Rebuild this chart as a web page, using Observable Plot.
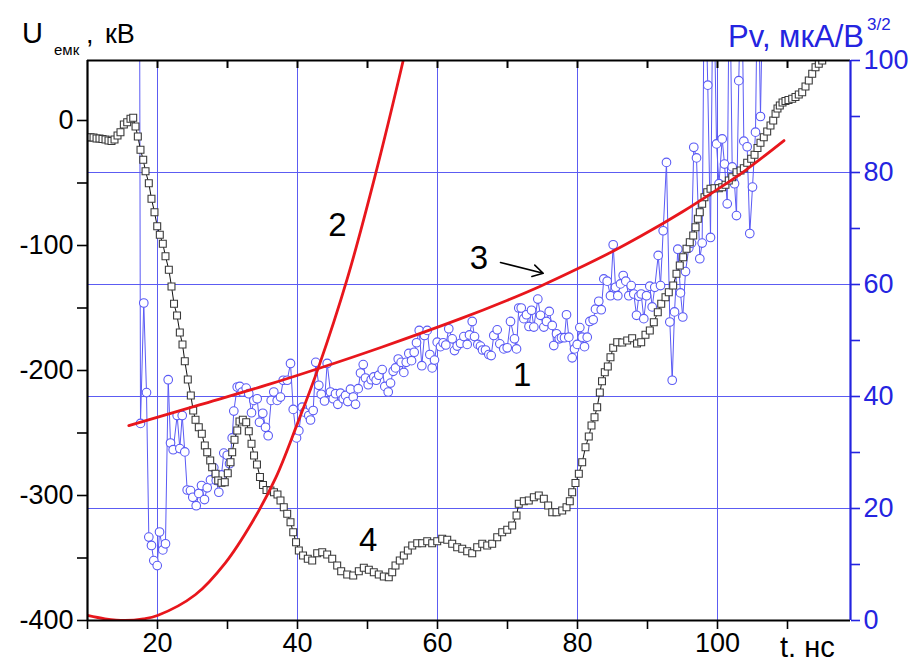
<!DOCTYPE html>
<html>
<head>
<meta charset="utf-8">
<script src="https://cdn.jsdelivr.net/npm/d3@7"></script>
<script src="https://cdn.jsdelivr.net/npm/@observablehq/plot@0.6"></script>
<style>
  html, body { margin: 0; padding: 0; background: #fff; }
  #chart { width: 912px; height: 663px; }
</style>
</head>
<body>
<div id="chart"></div>
<script>
// ---------- data ----------
// curve 1: Pv, мкА/В^3/2 (right axis) – [t, Pv]
const pvPoints = [
[17.43,120],[17.57,35.2],[18.04,56.7],[18.43,40.7],[18.76,14.9],[19.14,13.4],[19.47,10.7],[19.96,9.8],[20.29,15.8],[20.76,12.6],
[21.14,13.7],[21.53,43.0],[21.86,31.7],[22.24,30.5],[22.81,36.6],[23.19,30.7],[23.53,36.6],[23.90,30.1],[24.24,23.3],[24.71,23.2],
[25.04,22.0],[25.53,20.5],[25.90,22.7],[26.29,24.1],[26.71,21.6],[27.10,23.7],[27.57,25.1],[28.04,27.3],[28.39,25.0],[28.76,22.9],
[29.14,26.0],[29.47,29.9],[29.96,29.5],[30.29,28.0],[30.67,32.6],[30.90,37.4],[31.39,41.7],[31.76,41.8],[32.10,40.8],[32.67,41.5],
[33.04,40.5],[33.43,37.1],[33.76,39.3],[34.24,39.6],[34.57,35.4],[35.04,37.0],[35.43,34.5],[35.81,33.0],[36.24,39.3],[36.61,40.8],
[37.10,39.3],[37.57,39.9],[37.96,42.9],[38.53,42.9],[39.00,45.9],[39.39,37.7],[39.86,32.6],[40.19,33.9],[40.67,38.1],[41.00,37.2],
[41.61,36.6],[41.86,35.8],[42.24,37.5],[42.61,46.1],[43.04,42.0],[43.39,40.4],[43.86,39.2],[44.24,45.9],[44.71,40.8],[45.10,39.6],
[45.43,40.5],[45.76,38.6],[46.14,40.6],[46.53,39.6],[46.86,40.2],[47.19,39.1],[47.57,41.3],[47.96,39.9],[48.29,38.6],[48.67,41.4],
[49.00,44.2],[49.39,45.7],[49.71,43.3],[50.10,42.1],[50.53,43.0],[50.90,43.5],[51.24,42.9],[51.61,43.8],[52.10,44.8],[52.47,41.8],
[52.96,40.8],[53.29,42.4],[53.67,44.5],[54.00,45.1],[54.39,46.7],[54.81,46.1],[55.19,44.3],[55.53,46.1],[55.90,47.7],[56.29,46.4],
[56.67,47.9],[57.00,49.6],[57.39,51.8],[57.76,45.5],[58.14,50.9],[58.53,51.8],[58.90,47.5],[59.24,45.1],[59.57,46.5],[59.96,49.7],
[60.43,48.9],[60.81,49.6],[61.19,49.2],[61.61,52.1],[62.10,50.3],[62.43,48.2],[62.81,49.0],[63.29,49.5],[63.76,50.7],[64.24,49.3],
[64.57,51.0],[64.96,53.4],[65.29,50.7],[65.76,49.3],[66.14,49.0],[66.43,48.3],[66.86,48.3],[67.33,47.5],[67.67,47.3],[68.04,50.9],
[68.53,51.9],[68.90,49.4],[69.47,48.5],[69.96,48.7],[70.43,53.4],[71.00,50.3],[71.29,48.5],[71.61,55.8],[71.96,55.8],[72.33,53.9],
[72.71,54.6],[73.07,52.5],[73.43,55.4],[73.76,52.4],[74.33,57.4],[74.71,54.5],[75.19,52.4],[75.57,53.4],[75.96,55.2],[76.39,52.7],
[76.61,49.1],[77.00,51.2],[77.39,50.3],[77.71,50.5],[78.14,50.5],[78.43,54.6],[78.76,50.6],[79.24,46.9],[79.57,48.5],[79.96,49.3],
[80.33,52.3],[80.67,50.6],[81.00,48.9],[81.39,50.6],[81.76,53.4],[82.24,53.7],[82.57,55.6],[83.04,57.0],[83.39,55.5],[83.76,61.0],
[84.24,60.6],[84.71,58.0],[85.10,67.1],[85.43,59.5],[85.76,58.0],[86.14,60.1],[86.53,61.6],[86.90,60.6],[87.33,58.0],[87.67,59.8],
[88.04,58.3],[88.43,54.5],[88.76,57.9],[89.10,58.3],[89.47,53.9],[89.86,58.0],[90.33,59.7],[90.67,56.0],[91.04,59.5],[91.53,65.2],
[91.86,59.8],[92.24,69.6],[92.71,81.8],[93.19,53.3],[93.53,42.9],[93.86,55.1],[94.33,66.3],[94.71,58.5],[95.04,54.2],[95.43,62.3],
[95.90,66.5],[96.29,67.4],[96.61,84.5],[97.00,82.6],[97.47,64.6],[97.81,67.4],[98.14,120],[98.61,95.6],[99.00,68.4],[99.39,120],
[99.86,85.1],[100.21,78.0],[100.67,86.0],[101.00,81.5],[101.39,74.4],[101.71,120],[102.10,81.0],[102.43,78.0],[102.71,72.3],[103.04,96.4],
[103.43,120],[103.76,85.6],[104.24,84.6],[104.61,69.1],[105.00,77.4],[105.43,87.2],[105.76,120],[106.14,90.0],[106.57,120]
];

// curve 4: U емк, кВ (left axis) – [t, U]
const uPoints = [
[10.07,-13.6],[10.43,-13.4],[10.86,-13.6],[11.29,-14.4],[11.71,-14.4],[12.14,-14.8],[12.57,-15.2],[13.00,-16.0],[13.43,-16.4],[13.86,-15.2],
[14.29,-12.0],[14.71,-9.4],[15.19,-3.2],[15.67,-1.4],[16.14,1.4],[16.53,2.2],[16.86,-4.8],[17.19,-12.8],[17.57,-23.4],[17.96,-31.4],
[18.29,-40.6],[18.76,-50.2],[19.14,-62.6],[19.57,-73.4],[19.96,-84.6],[20.33,-91.4],[20.76,-98.6],[21.14,-108.6],[21.62,-119.4],[22.00,-132.8],
[22.36,-146.6],[22.79,-156.0],[23.19,-169.6],[23.57,-179.2],[23.90,-192.6],[24.33,-207.2],[24.76,-220.0],[25.10,-232.0],[25.43,-239.4],[25.90,-245.4],
[26.33,-250.6],[26.76,-260.0],[27.10,-265.4],[27.53,-272.0],[27.81,-277.4],[28.29,-282.6],[28.67,-288.0],[29.14,-289.8],[29.61,-289.4],[30.04,-282.2],
[30.43,-273.4],[30.67,-265.4],[31.00,-255.4],[31.39,-248.0],[31.71,-240.8],[32.19,-239.4],[32.67,-241.4],[33.04,-248.6],[33.43,-258.6],[33.79,-268.0],
[34.21,-275.2],[34.64,-285.2],[35.07,-291.6],[35.57,-295.6],[36.14,-296.0],[36.64,-297.4],[37.14,-299.2],[37.57,-304.0],[38.04,-309.4],[38.53,-314.6],
[39.00,-321.4],[39.39,-329.4],[39.79,-337.4],[40.19,-344.0],[40.79,-348.0],[41.47,-350.6],[42.10,-352.0],[42.81,-346.2],[43.53,-345.4],[44.24,-347.2],
[44.96,-350.6],[45.67,-356.0],[46.24,-360.6],[47.10,-363.2],[47.96,-364.0],[48.76,-360.6],[49.47,-357.8],[50.19,-359.4],[50.90,-361.4],[51.61,-363.2],
[52.33,-364.8],[53.04,-365.4],[53.53,-361.4],[54.00,-356.0],[54.61,-352.0],[55.19,-348.0],[55.76,-344.0],[56.39,-340.0],[57.10,-338.2],[57.81,-338.2],
[58.53,-336.6],[59.24,-338.2],[59.96,-336.6],[60.67,-334.6],[61.39,-335.4],[62.10,-338.6],[62.81,-341.4],[63.53,-342.6],[64.24,-344.6],[64.96,-346.2],
[65.67,-341.4],[66.39,-338.6],[67.10,-340.0],[67.81,-338.6],[68.53,-333.4],[69.24,-329.4],[69.96,-327.4],[70.67,-324.0],[71.29,-316.0],[71.61,-306.6],
[72.33,-304.6],[73.04,-304.0],[73.76,-301.4],[74.47,-300.0],[75.19,-302.6],[75.81,-308.0],[76.39,-313.4],[77.00,-313.4],[77.81,-312.0],[78.43,-309.4],
[78.90,-304.6],[79.24,-297.4],[79.71,-290.0],[80.19,-282.6],[80.67,-273.4],[81.14,-261.4],[81.61,-252.8],[82.00,-244.0],[82.43,-237.4],[82.81,-229.4],
[83.19,-217.6],[83.50,-208.6],[83.90,-201.4],[84.33,-196.8],[84.71,-189.4],[85.10,-181.8],[85.67,-177.4],[86.39,-177.6],[87.10,-176.0],[87.81,-174.2],
[88.50,-178.4],[89.10,-177.4],[89.71,-171.4],[90.33,-168.0],[90.90,-161.4],[91.47,-153.4],[91.96,-146.6],[92.57,-141.4],[93.04,-137.4],[93.67,-132.0],
[94.14,-122.6],[94.61,-116.0],[95.10,-109.4],[95.57,-102.6],[96.04,-97.4],[96.53,-92.0],[96.86,-85.4],[97.19,-78.6],[97.47,-73.4],[97.81,-66.6],
[98.14,-61.4],[98.53,-57.4],[99.00,-54.6],[99.57,-54.2],[100.19,-54.2],[100.67,-53.4],[101.14,-51.4],[101.61,-48.0],[102.10,-45.4],[102.71,-41.4],
[103.29,-40.0],[103.76,-38.2],[104.24,-33.8],[104.81,-30.6],[105.29,-27.4],[105.71,-22.0],[106.14,-17.8],[106.61,-13.4],[107.10,-8.8],[107.57,-4.0],
[107.96,0.0],[108.29,5.4],[108.57,9.6],[108.90,12.0],[109.29,14.4],[109.71,15.6],[110.14,16.4],[110.67,17.4],[111.14,18.8],[111.61,20.8],
[112.10,22.6],[112.57,27.2],[113.04,32.0],[113.53,37.4],[114.00,42.6],[114.47,45.4],[114.96,48.0]
];

// curve 2 (right axis): [t, Pv]
const curve2 = [[10,0.9],[12.5,0.3],[15.4,0],[18,0.3],[20,0.9],[25.4,4.6],[29.7,10.3],[33.5,17.5],[36.9,25.5],[40,35.2],[43,45.2],[47.1,61.0],[51,79],[55.1,100],[56,105]];
// curve 3 (right axis): [t, Pv]
const curve3 = [[15.9,34.8],[26,38.5],[36,42.2],[43,45.0],[52,48.8],[63.3,53.9],[70,57.2],[74.7,59.7],[80,62.8],[85,65.9],[89,68.6],[95,73.0],[100,77.0],[104,80.4],[109.5,85.7]];

// curve numbers [text, t, U] and arrow [t1, U1, t2, U2]
const curveLabels = [["1",72.1,-204],["2",45.7,-84],["3",65.9,-110.4],["4",50.1,-336]];
const arrow3 = [[69.0,-113.6,75.1,-122.2]];

// axes
const xDomain = [10, 119];
const uDomain = [-400, 48];
const xTicks = [10,20,30,40,50,60,70,80,90,100,110];
const xGrid = [20,40,60,80,100];
const uTicks = [-400,-350,-300,-250,-200,-150,-100,-50,0];
const pvTicks = [0,10,20,30,40,50,60,70,80,90,100];
const pvGrid = [20,40,60,80];

// ---------- drawing ----------
const BLUE = "#2424e0";
const GRID = "#5c5cf2";
const LINE_BLUE = "#5a5af5";
const RED = "#e8161c";
const FONT = "'Liberation Sans', Arial, sans-serif";
const pvToU = p => uDomain[0] + p * (uDomain[1] - uDomain[0]) / 100;
const uToPv = u => (u - uDomain[0]) * 100 / (uDomain[1] - uDomain[0]);
const TOP_TICK = 8 * (uDomain[1] - uDomain[0]) / 560; // 8 px, in U units

const pv = pvPoints.map(([t, p]) => ({t, p}));
const uu = uPoints.map(([t, u]) => ({t, u}));
const c2 = curve2.map(([t, p]) => ({t, p}));
const c3 = curve3.map(([t, p]) => ({t, p}));

const svg = Plot.plot({
  width: 912, height: 663,
  marginLeft: 87, marginRight: 62, marginTop: 60, marginBottom: 43,
  x: {domain: xDomain},
  y: {domain: uDomain},
  style: {fontFamily: FONT, background: "white", color: "black", overflow: "visible"},
  marks: [
    // grid
    Plot.ruleX(xGrid, {stroke: GRID, strokeWidth: 1}),
    Plot.ruleY(pvGrid.map(pvToU), {stroke: GRID, strokeWidth: 1}),
    // curve 1 (circles)
    Plot.line(pv, {x: "t", y: d => pvToU(d.p), stroke: LINE_BLUE, strokeWidth: 1, clip: true}),
    Plot.dot(pv, {x: "t", y: d => pvToU(d.p), r: 4.3, stroke: LINE_BLUE, strokeWidth: 1.1, fill: "white", clip: true}),
    // curve 4 (squares)
    Plot.line(uu, {x: "t", y: "u", stroke: "#111", strokeWidth: 1, clip: true}),
    Plot.dot(uu, {x: "t", y: "u", symbol: "square", r: 3.9, stroke: "#3a3a3a", strokeWidth: 1.1, fill: "white", clip: true}),
    // red curves
    Plot.line(c2, {x: "t", y: d => pvToU(d.p), curve: "catmull-rom", stroke: RED, strokeWidth: 2.8, clip: true}),
    Plot.line(c3, {x: "t", y: d => pvToU(d.p), curve: "catmull-rom", stroke: RED, strokeWidth: 2.8, clip: true}),
    // curve numbers
    Plot.text(curveLabels, {x: d => d[1], y: d => d[2], text: d => d[0], fontSize: 33, fill: "black"}),
    Plot.arrow(arrow3, {x1: d => d[0], y1: d => d[1], x2: d => d[2], y2: d => d[3], stroke: "black", strokeWidth: 1.6, headLength: 11}),
    // frame
    Plot.ruleY([uDomain[1]], {stroke: "black", strokeWidth: 2.2}),
    Plot.ruleY([uDomain[0]], {stroke: "black", strokeWidth: 2.2}),
    Plot.ruleX([xDomain[0]], {stroke: "black", strokeWidth: 2.2}),
    Plot.ruleX([xDomain[1]], {stroke: BLUE, strokeWidth: 2.2}),
    // top inward ticks
    Plot.ruleX(xTicks.filter(d => d > xDomain[0]), {x: d => d, y1: uDomain[1], y2: uDomain[1] - TOP_TICK, stroke: "black", strokeWidth: 2}),
    // axes
    Plot.axisX(xTicks, {anchor: "bottom", tickSize: 9, tickPadding: 3, strokeWidth: 1.6, fontSize: 27,
      tickFormat: d => d % 20 === 0 ? String(d) : "", label: null}),
    Plot.axisY(uTicks, {anchor: "left", tickSize: 10, tickPadding: 4, strokeWidth: 1.6, fontSize: 27,
      tickFormat: d => d % 100 === 0 ? String(d) : "", label: null}),
    Plot.axisY(pvTicks.map(pvToU), {anchor: "right", tickSize: 9, tickPadding: 4, strokeWidth: 1.6, fontSize: 27, color: BLUE,
      tickFormat: u => { const p = Math.round(uToPv(u)); return p % 20 === 0 ? String(p) : ""; }, label: null})
  ]
});

document.getElementById("chart").appendChild(svg);

// axis titles (real text, with sub/superscripts)
const s = d3.select(svg);
const add = (txt, x, y, size, fill) => s.append("text").attr("x", x).attr("y", y)
  .attr("text-anchor", "start")
  .attr("font-family", FONT).attr("font-size", size).attr("fill", fill || "black").text(txt);
add("U", 22, 43, 29);
add("емк", 54, 55, 15);
add(",", 86, 43, 27);
add("кВ", 105, 43, 27);
add("Pv, мкА/В", 728, 47, 31, BLUE);
add("3/2", 867, 30, 17, BLUE);
add("t. нс", 780, 657, 29);
</script>
</body>
</html>
